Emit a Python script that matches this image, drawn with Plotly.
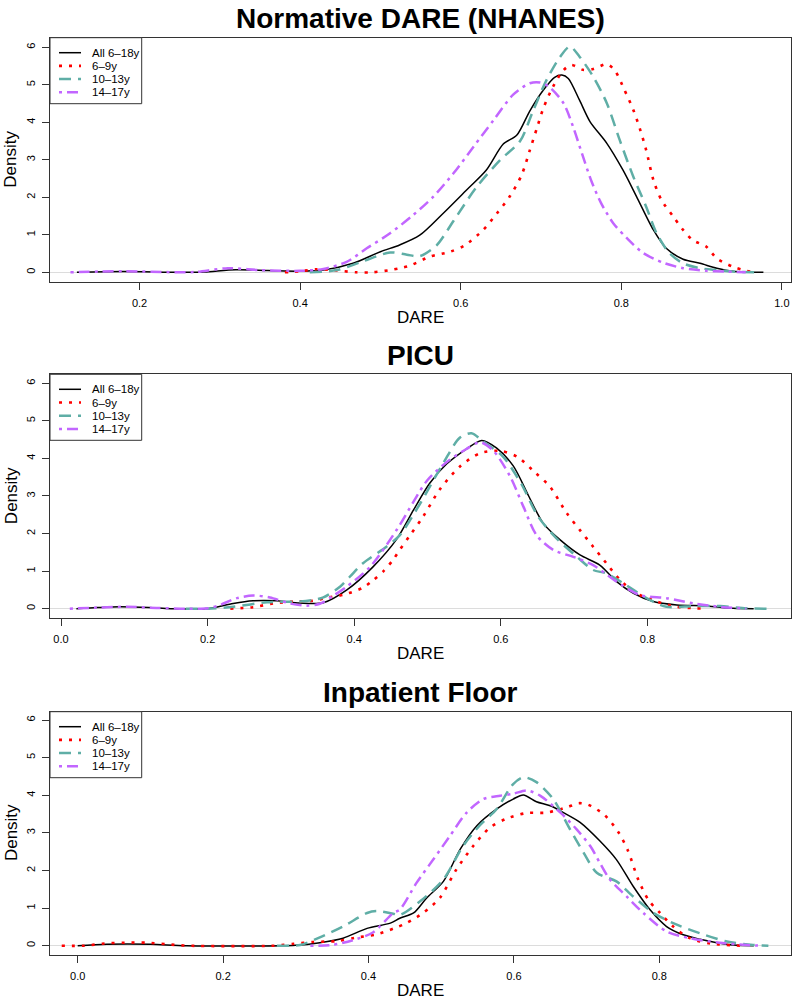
import plotly.graph_objects as go

W, H = 796, 1000

series_names = ["All 6–18y", "6–9y", "10–13y", "14–17y"]
panel_titles = ["Normative DARE (NHANES)", "PICU", "Inpatient Floor"]
x_label = "DARE"
y_label = "Density"
x_tick_vals = [[0.2, 0.4, 0.6, 0.8, 1.0], [0.0, 0.2, 0.4, 0.6, 0.8], [0.0, 0.2, 0.4, 0.6, 0.8]]
y_tick_vals = [0, 1, 2, 3, 4, 5, 6]

# ---------------- Panel 1: Normative DARE (NHANES) ----------------
p1_all_x = [0.122, 0.18, 0.25, 0.28, 0.32, 0.36, 0.40, 0.429, 0.466, 0.50, 0.524, 0.549, 0.578, 0.607,
            0.632, 0.653, 0.670, 0.686, 0.703, 0.717, 0.726, 0.734, 0.748, 0.761, 0.782, 0.802, 0.819,
            0.840, 0.856, 0.877, 0.898, 0.919, 0.939, 0.977]
p1_all_y = [0.0, 0.02, 0.0, 0.01, 0.07, 0.05, 0.03, 0.06, 0.24, 0.55, 0.73, 0.99, 1.57, 2.19,
            2.73, 3.42, 3.66, 4.3, 4.86, 5.2, 5.26, 5.17, 4.59, 4.02, 3.44, 2.73, 2.02,
            1.13, 0.64, 0.35, 0.24, 0.11, 0.03, 0.0]
p1_69_x = [0.381, 0.40, 0.42, 0.44, 0.47, 0.49, 0.512, 0.524, 0.537, 0.562, 0.587, 0.605, 0.628, 0.645,
           0.661, 0.676, 0.686, 0.695, 0.703, 0.715, 0.728, 0.738, 0.752, 0.765, 0.782, 0.792, 0.804,
           0.815, 0.823, 0.831, 0.840, 0.850, 0.865, 0.877, 0.889, 0.906, 0.919, 0.939, 0.956, 0.968]
p1_69_y = [0.0, 0.03, 0.08, 0.06, 0.0, 0.0, 0.06, 0.11, 0.18, 0.42, 0.55, 0.72, 1.13, 1.57,
           2.02, 2.6, 3.25, 3.85, 4.38, 4.95, 5.39, 5.53, 5.4, 5.42, 5.55, 5.38, 4.86,
           4.33, 3.84, 3.26, 2.46, 1.93, 1.48, 1.13, 0.86, 0.68, 0.37, 0.15, 0.04, 0.0]
p1_1013_x = [0.412, 0.446, 0.479, 0.512, 0.533, 0.549, 0.570, 0.591, 0.620, 0.649, 0.674, 0.690, 0.707,
             0.724, 0.736, 0.748, 0.765, 0.782, 0.798, 0.815, 0.831, 0.844, 0.860, 0.877, 0.898,
             0.919, 0.939, 0.972]
p1_1013_y = [0.0, 0.06, 0.3, 0.53, 0.47, 0.43, 0.72, 1.37, 2.28, 2.99, 3.5, 4.3, 5.13,
             5.75, 6.02, 5.75, 5.22, 4.51, 3.53, 2.55, 1.75, 1.04, 0.51, 0.24, 0.11,
             0.06, 0.02, 0.0]
p1_1417_x = [0.114, 0.18, 0.25, 0.27, 0.31, 0.35, 0.40, 0.429, 0.458, 0.483, 0.512, 0.541, 0.566, 0.591,
             0.616, 0.641, 0.665, 0.686, 0.699, 0.711, 0.728, 0.740, 0.751, 0.763, 0.775, 0.790,
             0.807, 0.827, 0.852, 0.877, 0.906, 0.931, 0.955]
p1_1417_y = [0.0, 0.03, 0.0, 0.01, 0.11, 0.06, 0.04, 0.09, 0.28, 0.64, 1.04, 1.53, 2.02, 2.64,
             3.35, 4.06, 4.73, 5.04, 5.06, 4.93, 4.51, 3.88, 3.17, 2.42, 1.84, 1.31,
             0.91, 0.52, 0.26, 0.11, 0.04, 0.02, 0.0]

# ---------------- Panel 2: PICU ----------------
p2_all_x = [0.021, 0.05, 0.08, 0.12, 0.15, 0.20, 0.235, 0.262, 0.294, 0.326, 0.358, 0.39, 0.426, 0.458,
            0.481, 0.503, 0.526, 0.553, 0.574, 0.594, 0.617, 0.638, 0.658, 0.681, 0.708, 0.735,
            0.758, 0.781, 0.808, 0.840, 0.881, 0.917, 0.945]
p2_all_y = [0.0, 0.03, 0.05, 0.03, 0.0, 0.0, 0.14, 0.21, 0.21, 0.15, 0.16, 0.5, 1.12, 1.85,
            2.63, 3.34, 3.85, 4.25, 4.48, 4.28, 3.8, 3.0, 2.27, 1.83, 1.43, 1.16,
            0.72, 0.41, 0.19, 0.1, 0.07, 0.01, 0.0]
p2_69_x = [0.231, 0.262, 0.29, 0.317, 0.344, 0.36, 0.387, 0.412, 0.426, 0.44, 0.453, 0.462, 0.476,
           0.494, 0.517, 0.544, 0.572, 0.599, 0.622, 0.647, 0.667, 0.690, 0.708, 0.726, 0.744,
           0.763, 0.785, 0.813, 0.840, 0.867, 0.881]
p2_69_y = [0.0, 0.04, 0.14, 0.19, 0.21, 0.28, 0.38, 0.56, 0.76, 1.0, 1.3, 1.56, 1.95,
           2.45, 3.18, 3.78, 4.14, 4.2, 4.05, 3.62, 3.25, 2.54, 2.09, 1.65, 1.21,
           0.76, 0.41, 0.19, 0.05, 0.01, 0.0]
p2_1013_x = [0.17, 0.20, 0.235, 0.281, 0.326, 0.344, 0.358, 0.381, 0.394, 0.412, 0.444, 0.462, 0.49,
             0.522, 0.544, 0.56, 0.576, 0.603, 0.628, 0.651, 0.676, 0.704, 0.726, 0.744, 0.767,
             0.799, 0.826, 0.863, 0.899, 0.935, 0.972]
p2_1013_y = [0.0, 0.0, 0.05, 0.17, 0.19, 0.23, 0.3, 0.59, 0.85, 1.21, 1.65, 1.95, 2.8,
             3.89, 4.55, 4.67, 4.45, 4.05, 3.32, 2.45, 1.87, 1.38, 1.03, 0.94, 0.68,
             0.28, 0.05, 0.07, 0.07, 0.01, 0.0]
p2_1417_x = [0.012, 0.05, 0.09, 0.13, 0.17, 0.20, 0.217, 0.24, 0.262, 0.285, 0.312, 0.335, 0.353,
             0.372, 0.39, 0.422, 0.458, 0.481, 0.499, 0.526, 0.553, 0.572, 0.59, 0.613, 0.631,
             0.649, 0.672, 0.699, 0.726, 0.758, 0.79, 0.826, 0.863, 0.899, 0.935]
p2_1417_y = [0.0, 0.03, 0.05, 0.02, 0.0, 0.01, 0.1, 0.28, 0.35, 0.3, 0.14, 0.08, 0.13,
             0.35, 0.59, 1.12, 2.1, 2.85, 3.4, 3.9, 4.25, 4.43, 4.2, 3.51, 2.71,
             1.95, 1.56, 1.38, 1.16, 0.72, 0.36, 0.28, 0.14, 0.05, 0.0]

# ---------------- Panel 3: Inpatient Floor ----------------
p3_all_x = [0.0, 0.04, 0.10, 0.15, 0.30, 0.333, 0.365, 0.398, 0.43, 0.443, 0.462, 0.48, 0.503, 0.526,
            0.549, 0.576, 0.599, 0.613, 0.631, 0.65, 0.668, 0.691, 0.718, 0.741, 0.764, 0.787,
            0.81, 0.833, 0.856, 0.879, 0.902, 0.93]
p3_all_y = [0.0, 0.04, 0.04, 0.0, 0.01, 0.08, 0.2, 0.46, 0.6, 0.73, 0.87, 1.27, 1.71, 2.56,
            3.19, 3.63, 3.9, 4.01, 3.83, 3.72, 3.54, 3.28, 2.79, 2.29, 1.58, 0.96,
            0.51, 0.29, 0.17, 0.08, 0.02, 0.0]
p3_69_x = [-0.022, 0.009, 0.037, 0.065, 0.095, 0.122, 0.152, 0.27, 0.297, 0.324, 0.356, 0.381, 0.411,
           0.435, 0.452, 0.475, 0.498, 0.521, 0.544, 0.567, 0.59, 0.618, 0.645, 0.673, 0.689,
           0.702, 0.725, 0.744, 0.757, 0.771, 0.785, 0.801, 0.819, 0.842, 0.87, 0.911]
p3_69_y = [0.0, 0.0, 0.06, 0.08, 0.08, 0.04, 0.0, 0.0, 0.05, 0.1, 0.12, 0.21, 0.3,
           0.46, 0.6, 0.87, 1.27, 2.03, 2.65, 3.14, 3.38, 3.53, 3.54, 3.68, 3.79,
           3.75, 3.47, 3.01, 2.52, 1.76, 1.22, 0.87, 0.51, 0.2, 0.06, 0.0]
p3_1013_x = [0.274, 0.306, 0.333, 0.365, 0.398, 0.411, 0.434, 0.443, 0.471, 0.503, 0.53, 0.553, 0.576,
             0.599, 0.613, 0.631, 0.654, 0.677, 0.696, 0.714, 0.741, 0.764, 0.792, 0.819, 0.856,
             0.893, 0.929, 0.95]
p3_1013_y = [0.0, 0.02, 0.22, 0.51, 0.87, 0.92, 0.85, 0.82, 1.18, 1.76, 2.65, 3.2, 3.63,
             4.3, 4.48, 4.35, 3.9, 3.1, 2.47, 1.94, 1.71, 1.31, 0.87, 0.6, 0.33,
             0.11, 0.02, 0.0]
p3_1417_x = [0.32, 0.35, 0.379, 0.406, 0.434, 0.443, 0.466, 0.489, 0.512, 0.535, 0.558, 0.581, 0.599,
             0.618, 0.636, 0.664, 0.686, 0.705, 0.718, 0.732, 0.755, 0.778, 0.81, 0.842, 0.883,
             0.92, 0.943]
p3_1417_y = [0.0, 0.02, 0.15, 0.35, 0.87, 0.96, 1.67, 2.29, 2.92, 3.54, 3.9, 3.99, 4.04,
             4.13, 3.99, 3.54, 3.1, 2.65, 2.21, 1.76, 1.31, 0.87, 0.38, 0.2, 0.08,
             0.02, 0.0]

panels = [
    [(p1_all_x, p1_all_y), (p1_69_x, p1_69_y), (p1_1013_x, p1_1013_y), (p1_1417_x, p1_1417_y)],
    [(p2_all_x, p2_all_y), (p2_69_x, p2_69_y), (p2_1013_x, p2_1013_y), (p2_1417_x, p2_1417_y)],
    [(p3_all_x, p3_all_y), (p3_69_x, p3_69_y), (p3_1013_x, p3_1013_y), (p3_1417_x, p3_1417_y)],
]

# styles
colors = ["#000000", "#FF0000", "#5FAEA6", "#C266FF"]
widths = [1.5, 2.6, 2.5, 2.5]
dashes = ["solid", "3px,7px", "12px,7px", "3px,5px,11px,5px"]

FONT = "Liberation Sans, Arial, Helvetica, sans-serif"

# panel geometry in page pixels (plot box)
box_left, box_right = 50, 790.7
box_tb = [(37.7, 281.7), (374.3, 618.0), (711.7, 954.5)]
x_ranges = [[0.0885, 1.011], [-0.015, 0.9955], [-0.0381, 0.9807]]
y_ranges = [[-0.25, 6.256], [-0.248, 6.239], [-0.234, 6.223]]


def px(xp):
    return xp / W


def py(yp):
    return 1 - yp / H


fig = go.Figure()
for p in range(3):
    xa = "x" if p == 0 else f"x{p+1}"
    ya = "y" if p == 0 else f"y{p+1}"
    for s in range(4):
        xs, ys = panels[p][s]
        fig.add_trace(go.Scatter(
            x=xs, y=ys, mode="lines", name=series_names[s],
            line=dict(color=colors[s], width=widths[s], dash=dashes[s], shape="spline", smoothing=0.8),
            xaxis=xa, yaxis=ya, showlegend=False, hoverinfo="skip"))

layout = dict(width=W, height=H, margin=dict(l=0, r=0, t=0, b=0),
              paper_bgcolor="white", plot_bgcolor="white",
              font=dict(family=FONT, color="black"), showlegend=False)

annotations = []
shapes = []
for p in range(3):
    top, bot = box_tb[p]
    xk = "xaxis" if p == 0 else f"xaxis{p+1}"
    yk = "yaxis" if p == 0 else f"yaxis{p+1}"
    ya = "y" if p == 0 else f"y{p+1}"
    xa = "x" if p == 0 else f"x{p+1}"
    layout[xk] = dict(domain=[px(box_left), px(box_right)], range=x_ranges[p], anchor=ya,
                      tickvals=x_tick_vals[p], ticktext=[f"{v:.1f}" for v in x_tick_vals[p]],
                      ticks="outside", ticklen=7, tickwidth=1, tickcolor="#333",
                      showline=True, mirror=True, linecolor="#333", linewidth=1,
                      showgrid=False, zeroline=False, tickfont=dict(size=11, family=FONT),
                      ticklabelstandoff=4)
    layout[yk] = dict(domain=[py(bot), py(top)], range=y_ranges[p], anchor=xa,
                      tickvals=y_tick_vals, ticktext=[str(v) for v in y_tick_vals],
                      ticks="outside", ticklen=7, tickwidth=1, tickcolor="#333", tickangle=-90,
                      showline=True, mirror=True, linecolor="#333", linewidth=1,
                      showgrid=False, zeroline=True, zerolinecolor="#dcdcdc", zerolinewidth=1,
                      tickfont=dict(size=11, family=FONT), ticklabelstandoff=3)
    cx = (box_left + box_right) / 2
    # title
    title_y = [18, 355, 692][p]
    annotations.append(dict(text=panel_titles[p], x=px(cx), y=py(title_y), xref="paper", yref="paper",
                            xanchor="center", yanchor="middle", showarrow=False,
                            font=dict(size=28, family=FONT, weight="bold", color="black")))
    # x label
    annotations.append(dict(text=x_label, x=px(cx), y=py(bot + 35.5), xref="paper", yref="paper",
                            xanchor="center", yanchor="middle", showarrow=False,
                            font=dict(size=17, family=FONT)))
    # y label
    annotations.append(dict(text=y_label, x=px(11), y=py((top + bot) / 2), xref="paper", yref="paper",
                            xanchor="center", yanchor="middle", showarrow=False, textangle=-90,
                            font=dict(size=17, family=FONT)))
    # legend box
    shapes.append(dict(type="rect", xref="paper", yref="paper",
                       x0=px(box_left), x1=px(141.7), y0=py(top), y1=py(top + 66),
                       line=dict(color="#333", width=1), fillcolor="white", layer="above"))
    for s in range(4):
        ey = top + 15 + 13.2 * s
        shapes.append(dict(type="line", xref="paper", yref="paper",
                           x0=px(59), x1=px(81), y0=py(ey), y1=py(ey),
                           line=dict(color=colors[s], width=widths[s], dash=dashes[s]), layer="above"))
        annotations.append(dict(text=series_names[s], x=px(90), y=py(ey), xref="paper", yref="paper",
                                xanchor="left", yanchor="middle", showarrow=False,
                                font=dict(size=11.5, family=FONT)))

layout["annotations"] = annotations
layout["shapes"] = shapes
fig.update_layout(**layout)
fig.write_html("out.html", config={"displayModeBar": False},
               post_script="document.body.style.margin='0px';document.body.style.overflow='hidden';")
